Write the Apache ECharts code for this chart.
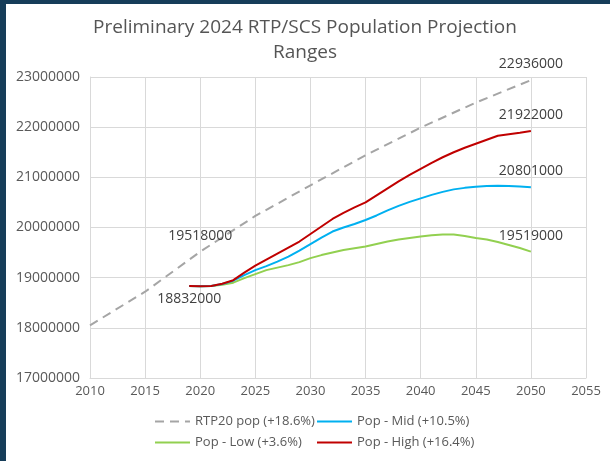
<!DOCTYPE html>
<html><head><meta charset="utf-8">
<script src="https://cdn.jsdelivr.net/npm/echarts@6/dist/echarts.min.js"></script>
<style>html,body{margin:0;padding:0;background:#fff}#c{width:610px;height:461px}</style>
</head><body><div id="c"></div>
<script>
const rtpYears = [2010, 2015, 2020, 2025, 2030, 2035, 2040, 2045, 2050];
const rtpPop = [18050000, 18720000, 19518000, 20230000, 20840000, 21440000, 21990000, 22490000, 22936000];

const projYears = [2019, 2020, 2021, 2022, 2023, 2024, 2025, 2026, 2027, 2028, 2029, 2030,
  2031, 2032, 2033, 2034, 2035, 2036, 2037, 2038, 2039, 2040,
  2041, 2042, 2043, 2044, 2045, 2046, 2047, 2048, 2049, 2050];
const popHigh = [18832000, 18830000, 18832000, 18880000, 18950000, 19100000, 19240000, 19360000, 19480000, 19600000, 19720000, 19870000,
  20020000, 20170000, 20290000, 20400000, 20500000, 20640000, 20780000, 20920000, 21050000, 21170000,
  21290000, 21400000, 21500000, 21590000, 21670000, 21750000, 21830000, 21860000, 21890000, 21922000];
const popMid = [18832000, 18830000, 18832000, 18875000, 18940000, 19050000, 19150000, 19230000, 19320000, 19420000, 19540000, 19670000,
  19800000, 19920000, 20000000, 20070000, 20150000, 20240000, 20340000, 20430000, 20510000, 20580000,
  20650000, 20710000, 20760000, 20790000, 20810000, 20825000, 20830000, 20825000, 20815000, 20801000];
const popLow = [18832000, 18830000, 18832000, 18860000, 18900000, 18990000, 19070000, 19150000, 19200000, 19250000, 19310000, 19390000,
  19450000, 19500000, 19550000, 19585000, 19620000, 19670000, 19720000, 19760000, 19790000, 19820000,
  19845000, 19860000, 19860000, 19830000, 19790000, 19760000, 19710000, 19650000, 19590000, 19519000];

const names = ['RTP20 pop (+18.6%)', 'Pop - Mid (+10.5%)', 'Pop - Low (+3.6%)', 'Pop - High (+16.4%)'];
const titleText = 'Preliminary 2024 RTP/SCS Population Projection\nRanges';

const FONT = 'Open Sans';
const labelStyle = { show: true, color: '#404040', fontSize: 14, fontFamily: FONT };

function build(xs, ys, labelIdx) {
  return xs.map((x, i) => {
    const d = { value: [x, ys[i]] };
    if (labelIdx[i]) {
      d.label = Object.assign({}, labelStyle, {
        position: labelIdx[i], distance: labelIdx[i] === 'top' ? 9 : 6,
        formatter: p => String(p.value[1])
      });
    } else {
      d.label = { show: false };
    }
    return d;
  });
}

const chart = echarts.init(document.getElementById('c'), null, { renderer: 'canvas' });

function legendAt(name, left, top) {
  return {
    data: [name], left: left, top: top, padding: 0, itemWidth: 35, itemHeight: 14, itemGap: 0,
    itemStyle: { opacity: 0 },
    textStyle: { color: '#595959', fontSize: 13, fontFamily: FONT },
    selectedMode: false
  };
}

const lineBase = { type: 'line', showSymbol: true, symbol: 'circle', symbolSize: 0, emphasis: { disabled: true } };

const option = {
  animation: false,
  backgroundColor: '#ffffff',
  graphic: [
    { type: 'rect', left: 0, top: 0, shape: { width: 610, height: 4 }, style: { fill: '#163d59' }, z: 100 },
    { type: 'rect', left: 0, top: 0, shape: { width: 6, height: 461 }, style: { fill: '#163d59' }, z: 100 }
  ],
  title: {
    text: titleText, left: 'center', top: 10, padding: [5, 5, 5, 15],
    textStyle: { color: '#555555', fontSize: 19, fontWeight: 'normal', fontFamily: FONT, lineHeight: 25 }
  },
  legend: [
    legendAt(names[0], 154, 415),
    legendAt(names[1], 316, 415),
    legendAt(names[2], 154, 436),
    legendAt(names[3], 316, 436)
  ],
  grid: { left: 90, right: 24, top: 77, bottom: 83, containLabel: false },
  xAxis: {
    type: 'value', min: 2010, max: 2055, interval: 5,
    axisLine: { show: true, lineStyle: { color: '#d9d9d9' } },
    axisTick: { show: false },
    splitLine: { show: true, lineStyle: { color: '#d9d9d9' } },
    axisLabel: { color: '#595959', fontSize: 13, fontFamily: FONT, margin: 7, formatter: v => String(v) }
  },
  yAxis: {
    type: 'value', min: 17000000, max: 23000000, interval: 1000000,
    axisLine: { show: true, lineStyle: { color: '#d9d9d9' } },
    axisTick: { show: false },
    splitLine: { show: true, lineStyle: { color: '#d9d9d9' } },
    axisLabel: { color: '#595959', fontSize: 14, fontFamily: FONT, margin: 10, formatter: v => String(v) }
  },
  series: [
    Object.assign({}, lineBase, {
      name: names[0],
      lineStyle: { color: '#a5a5a5', width: 2, type: [9, 6] }, itemStyle: { color: '#a5a5a5' },
      data: build(rtpYears, rtpPop, { 2: 'top', 8: 'top' }), z: 2
    }),
    Object.assign({}, lineBase, {
      name: names[2],
      lineStyle: { color: '#92d050', width: 2 }, itemStyle: { color: '#92d050' },
      data: build(projYears, popLow, { 31: 'top' }), z: 3
    }),
    Object.assign({}, lineBase, {
      name: names[1],
      lineStyle: { color: '#00b0f0', width: 2 }, itemStyle: { color: '#00b0f0' },
      data: build(projYears, popMid, { 31: 'top' }), z: 4
    }),
    Object.assign({}, lineBase, {
      name: names[3],
      lineStyle: { color: '#c00000', width: 2 }, itemStyle: { color: '#c00000' },
      data: build(projYears, popHigh, { 0: 'bottom', 31: 'top' }), z: 5
    })
  ]
};
chart.setOption(option);
</script>
</body></html>
